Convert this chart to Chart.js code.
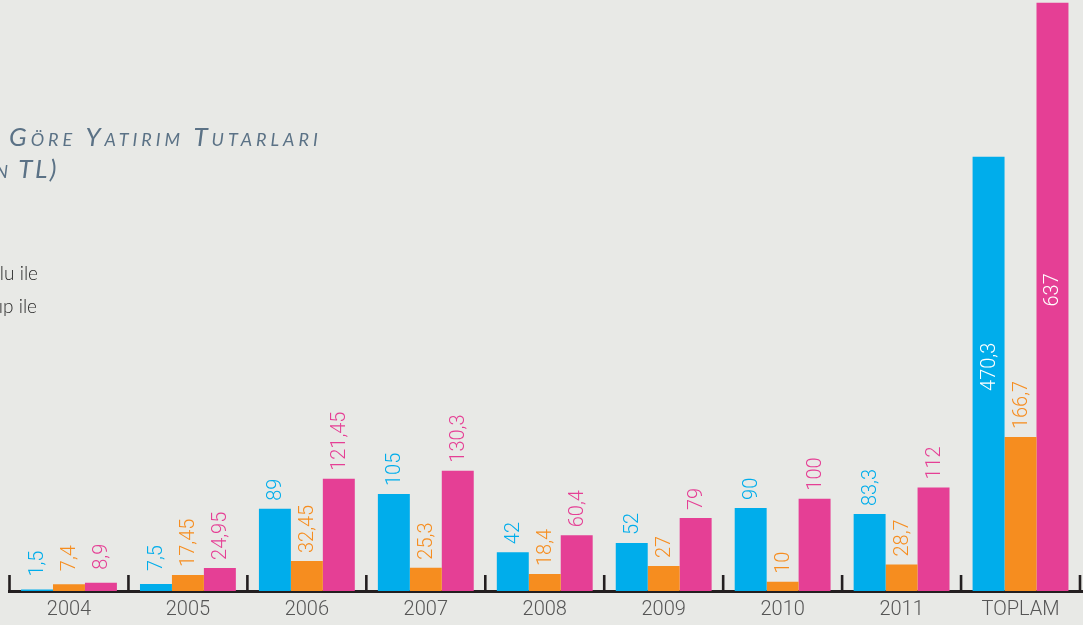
<!DOCTYPE html>
<html lang="tr">
<head>
<meta charset="utf-8">
<title>Yatırım Tutarları</title>
<script src="https://cdn.jsdelivr.net/npm/chart.js@4.4.1/dist/chart.umd.min.js"></script>
<style>
  html, body { margin: 0; padding: 0; background: #e8e9e6; overflow: hidden; }
  #wrap { position: relative; width: 1083px; height: 625px; overflow: hidden; }
  #chart { position: absolute; left: 0; top: 0; }
  .title {
    position: absolute;
    font-family: Lato, "Open Sans", sans-serif;
    font-style: italic;
    font-variant: small-caps;
    font-size: 26px;
    letter-spacing: 4px;
    color: #5b7286;
    white-space: nowrap;
    line-height: 1;
  }
  .legend {
    position: absolute;
    font-family: Lato, "Open Sans", sans-serif;
    font-weight: 300;
    font-size: 19px;
    color: #2a2a2a;
    white-space: nowrap;
    line-height: 1;
  }
</style>
</head>
<body>
<div id="wrap">
  <canvas id="chart" width="1083" height="625"></canvas>
  <div class="title" style="left:9px; top:123px;">Göre Yatırım Tutarları</div>
  <div class="title" style="right:1024px; top:155px; letter-spacing:2.5px;">(Milyon TL)</div>
  <div class="legend" style="right:1045px; top:263px;">Kendi kaynağı dolu ile</div>
  <div class="legend" style="right:1046px; top:296px;">Kredi alıp ile</div>
</div>
<script>
// --- Data ---
const years = ['2004', '2005', '2006', '2007', '2008', '2009', '2010', '2011', 'TOPLAM'];
const blueValues = [1.5, 7.5, 89, 105, 42, 52, 90, 83.3, 470.3];
const orangeValues = [7.4, 17.45, 32.45, 25.3, 18.4, 27, 10, 28.7, 166.7];
const pinkValues = [8.9, 24.95, 121.45, 130.3, 60.4, 79, 100, 112, 637];
const yMax = 640;

// --- Colours ---
const BLUE = '#00adeb';
const ORANGE = '#f68d1f';
const PINK = '#e53f95';
const AXIS = '#231f20';

// Turkish style decimals: 17.45 -> "17,45"
const fmt = v => String(v).replace('.', ',');

// Baseline and the small upward ticks between year groups (under the bars)
const axisPlugin = {
  id: 'baseAxis',
  beforeDatasetsDraw(chart) {
    const { ctx, chartArea } = chart;
    const n = years.length;
    const step = (chartArea.right - chartArea.left) / n;
    ctx.save();
    ctx.strokeStyle = AXIS;
    ctx.lineWidth = 3;
    ctx.beginPath();
    ctx.moveTo(chartArea.left - 1.5, chartArea.bottom + 0.5);
    ctx.lineTo(chart.width, chartArea.bottom + 0.5);
    ctx.stroke();
    ctx.lineWidth = 2.6;
    for (let i = 0; i <= n; i++) {
      const x = chartArea.left + i * step;
      ctx.beginPath();
      ctx.moveTo(x, chartArea.bottom);
      ctx.lineTo(x, chartArea.bottom - 16);
      ctx.stroke();
    }
    ctx.restore();
  }
};

// Rotated value labels above (or inside, for the tall totals) each bar
const valueLabels = {
  id: 'valueLabels',
  afterDatasetsDraw(chart) {
    const { ctx } = chart;
    ctx.save();
    ctx.font = '300 20px Roboto, "DejaVu Sans Condensed", sans-serif';
    chart.data.datasets.forEach((ds, di) => {
      const meta = chart.getDatasetMeta(di);
      meta.data.forEach((bar, i) => {
        const v = ds.data[i];
        const inside = v > 300;
        ctx.save();
        if (inside) {
          ctx.translate(bar.x, (bar.y + bar.base) / 2 - 7);
          ctx.textAlign = 'center';
          ctx.fillStyle = '#ffffff';
        } else {
          // very short bars keep their label a little higher
          const gap = v < 10 ? 13 : 8;
          ctx.translate(bar.x, bar.y - gap);
          ctx.textAlign = 'left';
          ctx.fillStyle = ds.backgroundColor;
        }
        ctx.rotate(-Math.PI / 2);
        ctx.textBaseline = 'middle';
        ctx.fillText(fmt(v), 0, 1);
        ctx.restore();
      });
    });
    ctx.restore();
  }
};

const ctx = document.getElementById('chart').getContext('2d');

new Chart(ctx, {
  type: 'bar',
  data: {
    labels: years,
    datasets: [
      { label: 'Mavi', data: blueValues, backgroundColor: BLUE },
      { label: 'Turuncu', data: orangeValues, backgroundColor: ORANGE },
      { label: 'Pembe', data: pinkValues, backgroundColor: PINK }
    ]
  },
  options: {
    responsive: false,
    animation: false,
    devicePixelRatio: 1,
    layout: { padding: { left: 9.5, right: 3, top: 0, bottom: 0 } },
    datasets: {
      bar: { categoryPercentage: 0.806, barPercentage: 1.0, borderWidth: 0 }
    },
    plugins: {
      legend: { display: false },
      tooltip: { enabled: false }
    },
    scales: {
      x: {
        grid: { display: false, drawTicks: false },
        border: { display: false },
        ticks: {
          color: '#555555',
          font: { family: 'Roboto, "DejaVu Sans", sans-serif', size: 20, weight: '300' },
          padding: 7,
          maxRotation: 0,
          autoSkip: false
        },
        afterFit(scale) { scale.height = 34; }
      },
      y: {
        display: false,
        min: 0,
        max: yMax
      }
    }
  },
  plugins: [axisPlugin, valueLabels]
});
</script>
</body>
</html>
